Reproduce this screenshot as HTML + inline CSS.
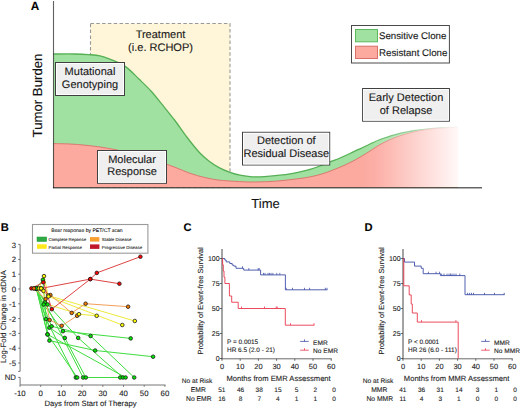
<!DOCTYPE html>
<html><head><meta charset="utf-8"><style>
html,body{margin:0;padding:0;background:#fff;width:520px;height:408px;overflow:hidden}
svg{display:block}
text{font-family:"Liberation Sans", sans-serif;text-rendering:geometricPrecision}
.h{stroke:#1a1a1a;stroke-width:0.12px}
text{stroke:#222;stroke-width:0.1px}
</style></head><body>
<svg width="520" height="408" viewBox="0 0 520 408">
<rect width="520" height="408" fill="#fff"/>
<defs>
<linearGradient id="fade" x1="0" x2="1" y1="0" y2="0"><stop offset="0" stop-color="#fff" stop-opacity="0"/><stop offset="0.15" stop-color="#fff" stop-opacity="0.08"/><stop offset="1" stop-color="#fff" stop-opacity="0.93"/></linearGradient>
</defs>
<rect x="90.5" y="23.5" width="139.5" height="164" fill="#FFF5D8" stroke="#999" stroke-width="1.1" stroke-dasharray="3.5,2.3"/>
<path d="M53.50,54.00 C57.08,54.00 69.17,53.90 75.00,54.00 C80.83,54.10 84.33,54.30 88.50,54.60 C92.67,54.90 96.45,55.05 100.00,55.80 C103.55,56.55 105.55,57.30 109.80,59.10 C114.05,60.90 120.60,63.23 125.50,66.60 C130.40,69.97 134.92,75.20 139.20,79.30 C143.48,83.40 147.35,86.97 151.20,91.20 C155.05,95.43 158.42,99.90 162.30,104.70 C166.18,109.50 170.42,114.62 174.50,120.00 C178.58,125.38 182.65,131.58 186.80,137.00 C190.95,142.42 195.67,148.47 199.40,152.50 C203.13,156.53 205.93,158.68 209.20,161.20 C212.47,163.72 215.53,165.75 219.00,167.60 C222.47,169.45 226.50,171.03 230.00,172.30 C233.50,173.57 236.67,174.48 240.00,175.20 C243.33,175.92 246.67,176.33 250.00,176.60 C253.33,176.87 256.67,176.87 260.00,176.80 C263.33,176.73 266.67,176.47 270.00,176.20 C273.33,175.93 276.67,175.60 280.00,175.20 C283.33,174.80 286.67,174.37 290.00,173.80 C293.33,173.23 296.67,172.53 300.00,171.80 C303.33,171.07 306.67,170.37 310.00,169.40 C313.33,168.43 316.67,167.23 320.00,166.00 C323.33,164.77 326.67,163.33 330.00,162.00 C333.33,160.67 336.67,159.42 340.00,158.00 C343.33,156.58 346.67,155.03 350.00,153.50 C353.33,151.97 356.67,150.38 360.00,148.80 C363.33,147.22 366.67,145.55 370.00,144.00 C373.33,142.45 376.67,140.80 380.00,139.50 C383.33,138.20 386.67,137.22 390.00,136.20 C393.33,135.18 396.67,134.20 400.00,133.40 C403.33,132.60 406.67,131.98 410.00,131.40 C413.33,130.82 415.00,130.50 420.00,129.90 C425.00,129.30 433.67,128.25 440.00,127.80 C446.33,127.35 455.00,127.30 458.00,127.20 L458,187.5 L53.5,187.5 Z" fill="#A0E0A0"/>
<path d="M53.50,54.00 C57.08,54.00 69.17,53.90 75.00,54.00 C80.83,54.10 84.33,54.30 88.50,54.60 C92.67,54.90 96.45,55.05 100.00,55.80 C103.55,56.55 105.55,57.30 109.80,59.10 C114.05,60.90 120.60,63.23 125.50,66.60 C130.40,69.97 134.92,75.20 139.20,79.30 C143.48,83.40 147.35,86.97 151.20,91.20 C155.05,95.43 158.42,99.90 162.30,104.70 C166.18,109.50 170.42,114.62 174.50,120.00 C178.58,125.38 182.65,131.58 186.80,137.00 C190.95,142.42 195.67,148.47 199.40,152.50 C203.13,156.53 205.93,158.68 209.20,161.20 C212.47,163.72 215.53,165.75 219.00,167.60 C222.47,169.45 226.50,171.03 230.00,172.30 C233.50,173.57 236.67,174.48 240.00,175.20 C243.33,175.92 246.67,176.33 250.00,176.60 C253.33,176.87 256.67,176.87 260.00,176.80 C263.33,176.73 266.67,176.47 270.00,176.20 C273.33,175.93 276.67,175.60 280.00,175.20 C283.33,174.80 286.67,174.37 290.00,173.80 C293.33,173.23 296.67,172.53 300.00,171.80 C303.33,171.07 306.67,170.37 310.00,169.40 C313.33,168.43 316.67,167.23 320.00,166.00 C323.33,164.77 326.67,163.33 330.00,162.00 C333.33,160.67 336.67,159.42 340.00,158.00 C343.33,156.58 346.67,155.03 350.00,153.50 C353.33,151.97 356.67,150.38 360.00,148.80 C363.33,147.22 366.67,145.55 370.00,144.00 C373.33,142.45 376.67,140.80 380.00,139.50 C383.33,138.20 386.67,137.22 390.00,136.20 C393.33,135.18 396.67,134.20 400.00,133.40 C403.33,132.60 406.67,131.98 410.00,131.40 C413.33,130.82 415.00,130.50 420.00,129.90 C425.00,129.30 433.67,128.25 440.00,127.80 C446.33,127.35 455.00,127.30 458.00,127.20" fill="none" stroke="#55B055" stroke-width="1.3"/>
<path d="M53.50,143.60 C56.25,143.67 64.75,143.73 70.00,144.00 C75.25,144.27 80.00,144.70 85.00,145.20 C90.00,145.70 95.00,146.27 100.00,147.00 C105.00,147.73 110.00,148.60 115.00,149.60 C120.00,150.60 125.00,151.77 130.00,153.00 C135.00,154.23 140.00,155.53 145.00,157.00 C150.00,158.47 155.00,160.08 160.00,161.80 C165.00,163.52 170.00,165.38 175.00,167.30 C180.00,169.22 185.00,171.58 190.00,173.30 C195.00,175.02 200.33,176.48 205.00,177.60 C209.67,178.72 213.83,179.43 218.00,180.00 C222.17,180.57 224.67,180.67 230.00,181.00 C235.33,181.33 243.33,181.92 250.00,182.00 C256.67,182.08 265.00,181.70 270.00,181.50 C275.00,181.30 276.67,181.10 280.00,180.80 C283.33,180.50 286.67,180.08 290.00,179.70 C293.33,179.32 296.67,178.97 300.00,178.50 C303.33,178.03 306.67,177.57 310.00,176.90 C313.33,176.23 316.67,175.45 320.00,174.50 C323.33,173.55 326.67,172.42 330.00,171.20 C333.33,169.98 336.67,168.63 340.00,167.20 C343.33,165.77 346.67,164.27 350.00,162.60 C353.33,160.93 356.67,159.13 360.00,157.20 C363.33,155.27 366.67,153.10 370.00,151.00 C373.33,148.90 376.67,146.48 380.00,144.60 C383.33,142.72 386.67,141.17 390.00,139.70 C393.33,138.23 396.67,136.93 400.00,135.80 C403.33,134.67 406.67,133.75 410.00,132.90 C413.33,132.05 415.83,131.42 420.00,130.70 C424.17,129.98 428.67,129.17 435.00,128.60 C441.33,128.03 454.17,127.52 458.00,127.30 L458,187.5 L53.5,187.5 Z" fill="#FCA9A0"/>
<path d="M53.50,143.60 C56.25,143.67 64.75,143.73 70.00,144.00 C75.25,144.27 80.00,144.70 85.00,145.20 C90.00,145.70 95.00,146.27 100.00,147.00 C105.00,147.73 110.00,148.60 115.00,149.60 C120.00,150.60 125.00,151.77 130.00,153.00 C135.00,154.23 140.00,155.53 145.00,157.00 C150.00,158.47 155.00,160.08 160.00,161.80 C165.00,163.52 170.00,165.38 175.00,167.30 C180.00,169.22 185.00,171.58 190.00,173.30 C195.00,175.02 200.33,176.48 205.00,177.60 C209.67,178.72 213.83,179.43 218.00,180.00 C222.17,180.57 224.67,180.67 230.00,181.00 C235.33,181.33 243.33,181.92 250.00,182.00 C256.67,182.08 265.00,181.70 270.00,181.50 C275.00,181.30 276.67,181.10 280.00,180.80 C283.33,180.50 286.67,180.08 290.00,179.70 C293.33,179.32 296.67,178.97 300.00,178.50 C303.33,178.03 306.67,177.57 310.00,176.90 C313.33,176.23 316.67,175.45 320.00,174.50 C323.33,173.55 326.67,172.42 330.00,171.20 C333.33,169.98 336.67,168.63 340.00,167.20 C343.33,165.77 346.67,164.27 350.00,162.60 C353.33,160.93 356.67,159.13 360.00,157.20 C363.33,155.27 366.67,153.10 370.00,151.00 C373.33,148.90 376.67,146.48 380.00,144.60 C383.33,142.72 386.67,141.17 390.00,139.70 C393.33,138.23 396.67,136.93 400.00,135.80 C403.33,134.67 406.67,133.75 410.00,132.90 C413.33,132.05 415.83,131.42 420.00,130.70 C424.17,129.98 428.67,129.17 435.00,128.60 C441.33,128.03 454.17,127.52 458.00,127.30" fill="none" stroke="#D9706A" stroke-width="0.9"/>
<rect x="362" y="120" width="96.5" height="67" fill="url(#fade)"/>
<rect x="458.5" y="120" width="30" height="67" fill="#fff"/>
<line x1="53.5" y1="1" x2="53.5" y2="188.1" stroke="#000" stroke-opacity="0.62" stroke-width="1.1"/>
<line x1="53" y1="187.7" x2="482" y2="187.7" stroke="#000" stroke-opacity="0.6" stroke-width="1.4"/>
<rect x="55.5" y="62.5" width="69.0" height="33.0" fill="#EFEFEF" stroke="#404040" stroke-width="1"/>
<rect x="56.5" y="63.5" width="67.0" height="31.0" fill="none" stroke="#fff" stroke-width="0.9"/>
<text x="90.0" y="75.2" font-size="11" text-anchor="middle" fill="#1a1a1a" class="h">Mutational</text>
<text x="90.0" y="87.8" font-size="11" text-anchor="middle" fill="#1a1a1a" class="h">Genotyping</text>
<rect x="97.5" y="150.5" width="69.0" height="32.8" fill="#EFEFEF" stroke="#404040" stroke-width="1"/>
<rect x="98.5" y="151.5" width="67.0" height="30.8" fill="none" stroke="#fff" stroke-width="0.9"/>
<text x="132.0" y="162.6" font-size="11" text-anchor="middle" fill="#1a1a1a" class="h">Molecular</text>
<text x="132.0" y="175.3" font-size="11" text-anchor="middle" fill="#1a1a1a" class="h">Response</text>
<rect x="242.5" y="132.3" width="87.2" height="32.7" fill="#EFEFEF" stroke="#404040" stroke-width="1"/>
<rect x="243.5" y="133.3" width="85.2" height="30.7" fill="none" stroke="#fff" stroke-width="0.9"/>
<text x="286.3" y="144.3" font-size="11" text-anchor="middle" fill="#1a1a1a" class="h">Detection of</text>
<text x="286.3" y="157.4" font-size="11" text-anchor="middle" fill="#1a1a1a" class="h">Residual Disease</text>
<rect x="362.6" y="88.5" width="86.8" height="32.7" fill="#EFEFEF" stroke="#404040" stroke-width="1"/>
<rect x="363.6" y="89.5" width="84.8" height="30.7" fill="none" stroke="#fff" stroke-width="0.9"/>
<text x="406.0" y="100.8" font-size="11" text-anchor="middle" fill="#1a1a1a" class="h">Early Detection</text>
<text x="406.0" y="113.5" font-size="11" text-anchor="middle" fill="#1a1a1a" class="h">of Relapse</text>
<text x="160.5" y="37.6" font-size="11" text-anchor="middle" fill="#1a1a1a" class="h">Treatment</text>
<text x="160.5" y="50.6" font-size="11" text-anchor="middle" fill="#1a1a1a" class="h">(i.e. RCHOP)</text>
<rect x="351.5" y="25.5" width="97.9" height="37.5" fill="#fff" stroke="#4A4A4A" stroke-width="1"/>
<rect x="355.5" y="29.5" width="22" height="12.3" fill="#A0E0A0" stroke="#5DB85D" stroke-width="1"/>
<rect x="355.5" y="46.2" width="22" height="12.3" fill="#FCA9A0" stroke="#D9706A" stroke-width="1"/>
<text x="379" y="39.4" font-size="9.7" fill="#1a1a1a" class="h">Sensitive Clone</text>
<text x="379" y="56" font-size="9.7" fill="#1a1a1a" class="h">Resistant Clone</text>
<text x="265.5" y="207.6" font-size="13" text-anchor="middle" fill="#111" class="h">Time</text>
<text transform="translate(42.3,95.5) rotate(-90)" font-size="13.2" text-anchor="middle" fill="#111" class="h">Tumor Burden</text>
<text x="30.8" y="10.3" font-size="11.8" font-weight="bold" fill="#000">A</text>
<text x="0.7" y="231.0" font-size="11.2" font-weight="bold" fill="#000">B</text>
<path d="M18.2,244.4 H20.1 V371.4 H18.2" fill="none" stroke="#666" stroke-width="0.9"/>
<line x1="18.2" y1="259.4" x2="20.1" y2="259.4" stroke="#666" stroke-width="0.9"/>
<line x1="18.2" y1="274.2" x2="20.1" y2="274.2" stroke="#666" stroke-width="0.9"/>
<line x1="18.2" y1="289.0" x2="20.1" y2="289.0" stroke="#666" stroke-width="0.9"/>
<line x1="18.2" y1="303.8" x2="20.1" y2="303.8" stroke="#666" stroke-width="0.9"/>
<line x1="18.2" y1="318.6" x2="20.1" y2="318.6" stroke="#666" stroke-width="0.9"/>
<line x1="18.2" y1="333.4" x2="20.1" y2="333.4" stroke="#666" stroke-width="0.9"/>
<line x1="18.2" y1="348.2" x2="20.1" y2="348.2" stroke="#666" stroke-width="0.9"/>
<line x1="18.2" y1="363.0" x2="20.1" y2="363.0" stroke="#666" stroke-width="0.9"/>
<path d="M18.2,377.4 H20.1 V385 H165.5" fill="none" stroke="#666" stroke-width="0.9"/>
<line x1="20.0" y1="385" x2="20.0" y2="386.8" stroke="#666" stroke-width="0.9"/>
<line x1="40.7" y1="385" x2="40.7" y2="386.8" stroke="#666" stroke-width="0.9"/>
<line x1="61.4" y1="385" x2="61.4" y2="386.8" stroke="#666" stroke-width="0.9"/>
<line x1="82.1" y1="385" x2="82.1" y2="386.8" stroke="#666" stroke-width="0.9"/>
<line x1="102.8" y1="385" x2="102.8" y2="386.8" stroke="#666" stroke-width="0.9"/>
<line x1="123.5" y1="385" x2="123.5" y2="386.8" stroke="#666" stroke-width="0.9"/>
<line x1="144.2" y1="385" x2="144.2" y2="386.8" stroke="#666" stroke-width="0.9"/>
<line x1="164.9" y1="385" x2="164.9" y2="386.8" stroke="#666" stroke-width="0.9"/>
<text x="16" y="247.5" font-size="7.8" text-anchor="end" fill="#222">3</text>
<text x="16" y="262.3" font-size="7.8" text-anchor="end" fill="#222">2</text>
<text x="16" y="277.1" font-size="7.8" text-anchor="end" fill="#222">1</text>
<text x="16" y="291.9" font-size="7.8" text-anchor="end" fill="#222">0</text>
<text x="16" y="306.7" font-size="7.8" text-anchor="end" fill="#222">-1</text>
<text x="16" y="321.5" font-size="7.8" text-anchor="end" fill="#222">-2</text>
<text x="16" y="336.3" font-size="7.8" text-anchor="end" fill="#222">-3</text>
<text x="16" y="351.1" font-size="7.8" text-anchor="end" fill="#222">-4</text>
<text x="16" y="365.9" font-size="7.8" text-anchor="end" fill="#222">-5</text>
<text x="16" y="380.2" font-size="7.8" text-anchor="end" fill="#222">ND</text>
<text x="20.0" y="395.7" font-size="7.8" text-anchor="middle" fill="#222">-10</text>
<text x="40.7" y="395.7" font-size="7.8" text-anchor="middle" fill="#222">0</text>
<text x="61.4" y="395.7" font-size="7.8" text-anchor="middle" fill="#222">10</text>
<text x="82.1" y="395.7" font-size="7.8" text-anchor="middle" fill="#222">20</text>
<text x="102.8" y="395.7" font-size="7.8" text-anchor="middle" fill="#222">30</text>
<text x="123.5" y="395.7" font-size="7.8" text-anchor="middle" fill="#222">40</text>
<text x="144.2" y="395.7" font-size="7.8" text-anchor="middle" fill="#222">50</text>
<text x="164.9" y="395.7" font-size="7.8" text-anchor="middle" fill="#222">60</text>
<text x="90.5" y="406" font-size="7.7" text-anchor="middle" fill="#222">Days from Start of Therapy</text>
<text transform="translate(6.1,316.7) rotate(-90)" font-size="7.75" text-anchor="middle" fill="#222">Log-Fold Change in ctDNA</text>
<rect x="32.5" y="224.5" width="115.4" height="28.7" fill="#fff" stroke="#9a9a9a" stroke-width="1.1"/>
<text transform="translate(87,232.4) scale(0.25)" font-size="20.4" text-anchor="middle" fill="#000" style="stroke:#000;stroke-width:0.25px">Besr response by PET/CT scan</text>
<rect x="37" y="237" width="9.7" height="4.5" fill="#2EAA44" stroke="#1E9A34" stroke-width="0.5"/>
<rect x="37" y="244.3" width="9.7" height="4.5" fill="#FFE81C"/>
<rect x="90" y="237.1" width="9.4" height="4.5" fill="#F7A030"/>
<rect x="90" y="244.4" width="9.4" height="4.5" fill="#C0182A"/>
<text transform="translate(48.5,241.4) scale(0.25)" font-size="17.6" text-anchor="start" fill="#000" style="stroke:#000;stroke-width:0.25px">Complete Reponse</text>
<text transform="translate(48.5,248.6) scale(0.25)" font-size="17.6" text-anchor="start" fill="#000" style="stroke:#000;stroke-width:0.25px">Partial Response</text>
<text transform="translate(101.8,241.4) scale(0.25)" font-size="17.6" text-anchor="start" fill="#000" style="stroke:#000;stroke-width:0.25px">Stable Disease</text>
<text transform="translate(101.8,248.6) scale(0.25)" font-size="17.6" text-anchor="start" fill="#000" style="stroke:#000;stroke-width:0.25px">Progressive Disease</text>
<polyline points="36.3,288.4 45.9,319.0 75.8,377.5" fill="none" stroke="#40DD40" stroke-width="1"/>
<polyline points="36.3,288.4 47.5,334.4 77.2,377.5" fill="none" stroke="#40DD40" stroke-width="1"/>
<polyline points="36.3,288.4 44.9,302.4 83.1,377.5" fill="none" stroke="#40DD40" stroke-width="1"/>
<polyline points="36.3,288.4 49.4,327.7 64.8,337.9 85.8,377.5 120.2,377.5" fill="none" stroke="#40DD40" stroke-width="1"/>
<polyline points="36.3,288.4 47.6,304.5 78.2,337.9 122.9,377.5" fill="none" stroke="#40DD40" stroke-width="1"/>
<polyline points="36.3,288.4 51.6,326.3 90.6,336.0 134.2,377.5" fill="none" stroke="#40DD40" stroke-width="1"/>
<polyline points="36.3,288.4 43.7,304.5 62.9,331.2 130.7,338.4" fill="none" stroke="#40DD40" stroke-width="1"/>
<polyline points="36.3,288.4 49.4,340.6 95.2,350.5 153.1,356.7" fill="none" stroke="#40DD40" stroke-width="1"/>
<polyline points="36.3,288.4 42.9,279.8 47.5,334.4 125.6,377.5" fill="none" stroke="#40DD40" stroke-width="1"/>
<polyline points="39.0,288.4 44.0,276.1 48.1,295.5 134.8,321.0" fill="none" stroke="#EEEA3A" stroke-width="1"/>
<polyline points="41.2,288.4 43.5,290.9 48.5,296.5 122.3,325.0" fill="none" stroke="#EEEA3A" stroke-width="1"/>
<polyline points="41.2,288.4 47.9,304.4 79.0,314.2 96.7,315.8" fill="none" stroke="#EEEA3A" stroke-width="1"/>
<polyline points="33.9,288.4 50.4,295.0 71.7,312.9 85.6,303.7 128.1,306.7" fill="none" stroke="#F2A05A" stroke-width="1"/>
<polyline points="33.9,288.4 45.6,299.1 49.6,320.0 61.7,325.8 77.1,315.8" fill="none" stroke="#F2A05A" stroke-width="1"/>
<polyline points="31.4,288.4 43.4,282.3 51.8,309.2 90.3,279.1 96.8,272.9 140.4,256.7" fill="none" stroke="#E04444" stroke-width="1"/>
<polyline points="41.2,288.4 90.3,279.1 119.4,283.7" fill="none" stroke="#E04444" stroke-width="1"/>
<circle cx="36.3" cy="288.4" r="1.8" fill="#00E600" stroke="#1a1a1a" stroke-width="0.8"/>
<circle cx="45.9" cy="319.0" r="1.8" fill="#00E600" stroke="#1a1a1a" stroke-width="0.8"/>
<circle cx="75.8" cy="377.5" r="1.8" fill="#00E600" stroke="#1a1a1a" stroke-width="0.8"/>
<circle cx="36.3" cy="288.4" r="1.8" fill="#00E600" stroke="#1a1a1a" stroke-width="0.8"/>
<circle cx="47.5" cy="334.4" r="1.8" fill="#00E600" stroke="#1a1a1a" stroke-width="0.8"/>
<circle cx="77.2" cy="377.5" r="1.8" fill="#00E600" stroke="#1a1a1a" stroke-width="0.8"/>
<circle cx="36.3" cy="288.4" r="1.8" fill="#00E600" stroke="#1a1a1a" stroke-width="0.8"/>
<circle cx="44.9" cy="302.4" r="1.8" fill="#00E600" stroke="#1a1a1a" stroke-width="0.8"/>
<circle cx="83.1" cy="377.5" r="1.8" fill="#00E600" stroke="#1a1a1a" stroke-width="0.8"/>
<circle cx="36.3" cy="288.4" r="1.8" fill="#00E600" stroke="#1a1a1a" stroke-width="0.8"/>
<circle cx="49.4" cy="327.7" r="1.8" fill="#00E600" stroke="#1a1a1a" stroke-width="0.8"/>
<circle cx="64.8" cy="337.9" r="1.8" fill="#00E600" stroke="#1a1a1a" stroke-width="0.8"/>
<circle cx="85.8" cy="377.5" r="1.8" fill="#00E600" stroke="#1a1a1a" stroke-width="0.8"/>
<circle cx="120.2" cy="377.5" r="1.8" fill="#00E600" stroke="#1a1a1a" stroke-width="0.8"/>
<circle cx="36.3" cy="288.4" r="1.8" fill="#00E600" stroke="#1a1a1a" stroke-width="0.8"/>
<circle cx="47.6" cy="304.5" r="1.8" fill="#00E600" stroke="#1a1a1a" stroke-width="0.8"/>
<circle cx="78.2" cy="337.9" r="1.8" fill="#00E600" stroke="#1a1a1a" stroke-width="0.8"/>
<circle cx="122.9" cy="377.5" r="1.8" fill="#00E600" stroke="#1a1a1a" stroke-width="0.8"/>
<circle cx="36.3" cy="288.4" r="1.8" fill="#00E600" stroke="#1a1a1a" stroke-width="0.8"/>
<circle cx="51.6" cy="326.3" r="1.8" fill="#00E600" stroke="#1a1a1a" stroke-width="0.8"/>
<circle cx="90.6" cy="336.0" r="1.8" fill="#00E600" stroke="#1a1a1a" stroke-width="0.8"/>
<circle cx="134.2" cy="377.5" r="1.8" fill="#00E600" stroke="#1a1a1a" stroke-width="0.8"/>
<circle cx="36.3" cy="288.4" r="1.8" fill="#00E600" stroke="#1a1a1a" stroke-width="0.8"/>
<circle cx="43.7" cy="304.5" r="1.8" fill="#00E600" stroke="#1a1a1a" stroke-width="0.8"/>
<circle cx="62.9" cy="331.2" r="1.8" fill="#00E600" stroke="#1a1a1a" stroke-width="0.8"/>
<circle cx="130.7" cy="338.4" r="1.8" fill="#00E600" stroke="#1a1a1a" stroke-width="0.8"/>
<circle cx="36.3" cy="288.4" r="1.8" fill="#00E600" stroke="#1a1a1a" stroke-width="0.8"/>
<circle cx="49.4" cy="340.6" r="1.8" fill="#00E600" stroke="#1a1a1a" stroke-width="0.8"/>
<circle cx="95.2" cy="350.5" r="1.8" fill="#00E600" stroke="#1a1a1a" stroke-width="0.8"/>
<circle cx="153.1" cy="356.7" r="1.8" fill="#00E600" stroke="#1a1a1a" stroke-width="0.8"/>
<circle cx="36.3" cy="288.4" r="1.8" fill="#00E600" stroke="#1a1a1a" stroke-width="0.8"/>
<circle cx="42.9" cy="279.8" r="1.8" fill="#00E600" stroke="#1a1a1a" stroke-width="0.8"/>
<circle cx="47.5" cy="334.4" r="1.8" fill="#00E600" stroke="#1a1a1a" stroke-width="0.8"/>
<circle cx="125.6" cy="377.5" r="1.8" fill="#00E600" stroke="#1a1a1a" stroke-width="0.8"/>
<circle cx="31.4" cy="288.4" r="1.8" fill="#FF0000" stroke="#1a1a1a" stroke-width="0.8"/>
<circle cx="43.4" cy="282.3" r="1.8" fill="#FF0000" stroke="#1a1a1a" stroke-width="0.8"/>
<circle cx="51.8" cy="309.2" r="1.8" fill="#FF0000" stroke="#1a1a1a" stroke-width="0.8"/>
<circle cx="90.3" cy="279.1" r="1.8" fill="#FF0000" stroke="#1a1a1a" stroke-width="0.8"/>
<circle cx="96.8" cy="272.9" r="1.8" fill="#FF0000" stroke="#1a1a1a" stroke-width="0.8"/>
<circle cx="140.4" cy="256.7" r="1.8" fill="#FF0000" stroke="#1a1a1a" stroke-width="0.8"/>
<circle cx="41.2" cy="288.4" r="1.8" fill="#FF0000" stroke="#1a1a1a" stroke-width="0.8"/>
<circle cx="90.3" cy="279.1" r="1.8" fill="#FF0000" stroke="#1a1a1a" stroke-width="0.8"/>
<circle cx="119.4" cy="283.7" r="1.8" fill="#FF0000" stroke="#1a1a1a" stroke-width="0.8"/>
<circle cx="33.9" cy="288.4" r="1.8" fill="#F27800" stroke="#1a1a1a" stroke-width="0.8"/>
<circle cx="50.4" cy="295.0" r="1.8" fill="#F27800" stroke="#1a1a1a" stroke-width="0.8"/>
<circle cx="71.7" cy="312.9" r="1.8" fill="#F27800" stroke="#1a1a1a" stroke-width="0.8"/>
<circle cx="85.6" cy="303.7" r="1.8" fill="#F27800" stroke="#1a1a1a" stroke-width="0.8"/>
<circle cx="128.1" cy="306.7" r="1.8" fill="#F27800" stroke="#1a1a1a" stroke-width="0.8"/>
<circle cx="33.9" cy="288.4" r="1.8" fill="#F27800" stroke="#1a1a1a" stroke-width="0.8"/>
<circle cx="45.6" cy="299.1" r="1.8" fill="#F27800" stroke="#1a1a1a" stroke-width="0.8"/>
<circle cx="49.6" cy="320.0" r="1.8" fill="#F27800" stroke="#1a1a1a" stroke-width="0.8"/>
<circle cx="61.7" cy="325.8" r="1.8" fill="#F27800" stroke="#1a1a1a" stroke-width="0.8"/>
<circle cx="77.1" cy="315.8" r="1.8" fill="#F27800" stroke="#1a1a1a" stroke-width="0.8"/>
<circle cx="39.0" cy="288.4" r="1.8" fill="#FFFF00" stroke="#1a1a1a" stroke-width="0.8"/>
<circle cx="44.0" cy="276.1" r="1.8" fill="#FFFF00" stroke="#1a1a1a" stroke-width="0.8"/>
<circle cx="48.1" cy="295.5" r="1.8" fill="#FFFF00" stroke="#1a1a1a" stroke-width="0.8"/>
<circle cx="134.8" cy="321.0" r="1.8" fill="#FFFF00" stroke="#1a1a1a" stroke-width="0.8"/>
<circle cx="41.2" cy="288.4" r="1.8" fill="#FFFF00" stroke="#1a1a1a" stroke-width="0.8"/>
<circle cx="43.5" cy="290.9" r="1.8" fill="#FFFF00" stroke="#1a1a1a" stroke-width="0.8"/>
<circle cx="48.5" cy="296.5" r="1.8" fill="#FFFF00" stroke="#1a1a1a" stroke-width="0.8"/>
<circle cx="122.3" cy="325.0" r="1.8" fill="#FFFF00" stroke="#1a1a1a" stroke-width="0.8"/>
<circle cx="41.2" cy="288.4" r="1.8" fill="#FFFF00" stroke="#1a1a1a" stroke-width="0.8"/>
<circle cx="79.0" cy="314.2" r="1.8" fill="#FFFF00" stroke="#1a1a1a" stroke-width="0.8"/>
<circle cx="96.7" cy="315.8" r="1.8" fill="#FFFF00" stroke="#1a1a1a" stroke-width="0.8"/>
<text x="183.4" y="231.0" font-size="11.2" font-weight="bold" fill="#000">C</text>
<line x1="222.0" y1="249" x2="222.0" y2="358.8" stroke="#999" stroke-width="1.8"/>
<line x1="219.8" y1="258.5" x2="222.0" y2="258.5" stroke="#444" stroke-width="0.8"/>
<text x="219.6" y="261.0" font-size="7.0" text-anchor="end" fill="#222">100</text>
<line x1="219.8" y1="283.5" x2="222.0" y2="283.5" stroke="#444" stroke-width="0.8"/>
<text x="219.6" y="286.0" font-size="7.0" text-anchor="end" fill="#222">75</text>
<line x1="219.8" y1="308.5" x2="222.0" y2="308.5" stroke="#444" stroke-width="0.8"/>
<text x="219.6" y="311.0" font-size="7.0" text-anchor="end" fill="#222">50</text>
<line x1="219.8" y1="333.5" x2="222.0" y2="333.5" stroke="#444" stroke-width="0.8"/>
<text x="219.6" y="336.0" font-size="7.0" text-anchor="end" fill="#222">25</text>
<line x1="219.8" y1="358.5" x2="222.0" y2="358.5" stroke="#444" stroke-width="0.8"/>
<text x="219.6" y="361.0" font-size="7.0" text-anchor="end" fill="#222">0</text>
<line x1="221.0" y1="358.8" x2="331.7" y2="358.8" stroke="#444" stroke-width="0.8"/>
<line x1="222.0" y1="358.8" x2="222.0" y2="360.8" stroke="#444" stroke-width="0.8"/>
<text x="222.0" y="368.5" font-size="7.45" text-anchor="middle" fill="#222">0</text>
<line x1="240.2" y1="358.8" x2="240.2" y2="360.8" stroke="#444" stroke-width="0.8"/>
<text x="240.2" y="368.5" font-size="7.45" text-anchor="middle" fill="#222">10</text>
<line x1="258.4" y1="358.8" x2="258.4" y2="360.8" stroke="#444" stroke-width="0.8"/>
<text x="258.4" y="368.5" font-size="7.45" text-anchor="middle" fill="#222">20</text>
<line x1="276.6" y1="358.8" x2="276.6" y2="360.8" stroke="#444" stroke-width="0.8"/>
<text x="276.6" y="368.5" font-size="7.45" text-anchor="middle" fill="#222">30</text>
<line x1="294.8" y1="358.8" x2="294.8" y2="360.8" stroke="#444" stroke-width="0.8"/>
<text x="294.8" y="368.5" font-size="7.45" text-anchor="middle" fill="#222">40</text>
<line x1="313.0" y1="358.8" x2="313.0" y2="360.8" stroke="#444" stroke-width="0.8"/>
<text x="313.0" y="368.5" font-size="7.45" text-anchor="middle" fill="#222">50</text>
<line x1="331.2" y1="358.8" x2="331.2" y2="360.8" stroke="#444" stroke-width="0.8"/>
<text x="331.2" y="368.5" font-size="7.45" text-anchor="middle" fill="#222">60</text>
<path d="M222.00,258.50 H224.80 V260.00 H226.20 V261.90 H229.80 V263.50 H232.20 V265.10 H233.80 V266.10 H236.00 V268.30 H243.70 V270.10 H260.60 V274.90 H285.40 V289.80 H327.40 V289.80" fill="none" stroke="#3E4EA6" stroke-width="0.9"/>
<path d="M222.00,258.50 H222.60 V264.75 H223.30 V271.00 H224.00 V277.25 H224.90 V283.50 H229.40 V296.00 H231.70 V302.25 H238.20 V308.50 H285.30 V325.20 H314.40 V325.20" fill="none" stroke="#E8384C" stroke-width="0.9"/>
<line x1="242.5" y1="268.3" x2="242.5" y2="266.3" stroke="#3E4EA6" stroke-width="0.8"/>
<line x1="248.8" y1="270.1" x2="248.8" y2="268.1" stroke="#3E4EA6" stroke-width="0.8"/>
<line x1="258.2" y1="270.1" x2="258.2" y2="268.1" stroke="#3E4EA6" stroke-width="0.8"/>
<line x1="259.2" y1="270.1" x2="259.2" y2="268.1" stroke="#3E4EA6" stroke-width="0.8"/>
<line x1="263.5" y1="274.9" x2="263.5" y2="272.9" stroke="#3E4EA6" stroke-width="0.8"/>
<line x1="265.0" y1="274.9" x2="265.0" y2="272.9" stroke="#3E4EA6" stroke-width="0.8"/>
<line x1="268.0" y1="274.9" x2="268.0" y2="272.9" stroke="#3E4EA6" stroke-width="0.8"/>
<line x1="269.4" y1="274.9" x2="269.4" y2="272.9" stroke="#3E4EA6" stroke-width="0.8"/>
<line x1="271.0" y1="274.9" x2="271.0" y2="272.9" stroke="#3E4EA6" stroke-width="0.8"/>
<line x1="272.9" y1="274.9" x2="272.9" y2="272.9" stroke="#3E4EA6" stroke-width="0.8"/>
<line x1="276.8" y1="274.9" x2="276.8" y2="272.9" stroke="#3E4EA6" stroke-width="0.8"/>
<line x1="279.8" y1="274.9" x2="279.8" y2="272.9" stroke="#3E4EA6" stroke-width="0.8"/>
<line x1="286.2" y1="289.8" x2="286.2" y2="287.8" stroke="#3E4EA6" stroke-width="0.8"/>
<line x1="292.5" y1="289.8" x2="292.5" y2="287.8" stroke="#3E4EA6" stroke-width="0.8"/>
<line x1="304.5" y1="289.8" x2="304.5" y2="287.8" stroke="#3E4EA6" stroke-width="0.8"/>
<line x1="309.6" y1="289.8" x2="309.6" y2="287.8" stroke="#3E4EA6" stroke-width="0.8"/>
<line x1="325.3" y1="289.8" x2="325.3" y2="287.8" stroke="#3E4EA6" stroke-width="0.8"/>
<line x1="327.0" y1="289.8" x2="327.0" y2="287.8" stroke="#3E4EA6" stroke-width="0.8"/>
<line x1="241.5" y1="308.5" x2="241.5" y2="306.5" stroke="#E8384C" stroke-width="0.8"/>
<line x1="264.5" y1="308.5" x2="264.5" y2="306.5" stroke="#E8384C" stroke-width="0.8"/>
<line x1="276.2" y1="308.5" x2="276.2" y2="306.5" stroke="#E8384C" stroke-width="0.8"/>
<line x1="277.2" y1="308.5" x2="277.2" y2="306.5" stroke="#E8384C" stroke-width="0.8"/>
<line x1="290.5" y1="325.2" x2="290.5" y2="323.2" stroke="#E8384C" stroke-width="0.8"/>
<line x1="314.0" y1="325.2" x2="314.0" y2="323.2" stroke="#E8384C" stroke-width="0.8"/>
<text x="227.0" y="343.7" font-size="6.45" fill="#222">P = 0.0015</text>
<text x="227.0" y="351.8" font-size="6.45" fill="#222">HR 6.5 (2.0 - 21)</text>
<line x1="300.2" y1="341.4" x2="308.7" y2="341.4" stroke="#3E4EA6" stroke-width="0.8"/>
<line x1="304.5" y1="341.4" x2="304.5" y2="339.4" stroke="#3E4EA6" stroke-width="0.8"/>
<line x1="300.2" y1="350.2" x2="308.7" y2="350.2" stroke="#E8384C" stroke-width="0.8"/>
<line x1="304.5" y1="350.2" x2="304.5" y2="348.2" stroke="#E8384C" stroke-width="0.8"/>
<text x="313.0" y="344.6" font-size="6.6" fill="#222">EMR</text>
<text x="313.0" y="353.1" font-size="6.6" fill="#222">No EMR</text>
<text transform="translate(203.4,300.9) rotate(-90)" font-size="7.4" text-anchor="middle" fill="#222">Probability of Event-free Survival</text>
<text x="278.6" y="381.2" font-size="7.6" text-anchor="middle" fill="#222">Months from EMR Assessment</text>
<text x="197.0" y="383" font-size="6.65" text-anchor="middle" fill="#222">No at Risk</text>
<text x="198.3" y="392" font-size="6.75" text-anchor="middle" fill="#222">EMR</text>
<text x="198.8" y="401.2" font-size="6.75" text-anchor="middle" fill="#222">No EMR</text>
<text x="221.8" y="391.9" font-size="6.5" text-anchor="middle" fill="#222">51</text>
<text x="221.8" y="401.2" font-size="6.5" text-anchor="middle" fill="#222">16</text>
<text x="240.5" y="391.9" font-size="6.5" text-anchor="middle" fill="#222">46</text>
<text x="240.5" y="401.2" font-size="6.5" text-anchor="middle" fill="#222">8</text>
<text x="259.2" y="391.9" font-size="6.5" text-anchor="middle" fill="#222">38</text>
<text x="259.2" y="401.2" font-size="6.5" text-anchor="middle" fill="#222">7</text>
<text x="277.9" y="391.9" font-size="6.5" text-anchor="middle" fill="#222">15</text>
<text x="277.9" y="401.2" font-size="6.5" text-anchor="middle" fill="#222">4</text>
<text x="296.6" y="391.9" font-size="6.5" text-anchor="middle" fill="#222">5</text>
<text x="296.6" y="401.2" font-size="6.5" text-anchor="middle" fill="#222">1</text>
<text x="315.3" y="391.9" font-size="6.5" text-anchor="middle" fill="#222">2</text>
<text x="315.3" y="401.2" font-size="6.5" text-anchor="middle" fill="#222">1</text>
<text x="334.0" y="391.9" font-size="6.5" text-anchor="middle" fill="#222">0</text>
<text x="334.0" y="401.2" font-size="6.5" text-anchor="middle" fill="#222">0</text>
<text x="364.4" y="231.0" font-size="11.2" font-weight="bold" fill="#000">D</text>
<line x1="403.0" y1="249" x2="403.0" y2="358.8" stroke="#999" stroke-width="1.8"/>
<line x1="400.8" y1="258.5" x2="403.0" y2="258.5" stroke="#444" stroke-width="0.8"/>
<text x="400.6" y="261.0" font-size="7.0" text-anchor="end" fill="#222">100</text>
<line x1="400.8" y1="283.5" x2="403.0" y2="283.5" stroke="#444" stroke-width="0.8"/>
<text x="400.6" y="286.0" font-size="7.0" text-anchor="end" fill="#222">75</text>
<line x1="400.8" y1="308.5" x2="403.0" y2="308.5" stroke="#444" stroke-width="0.8"/>
<text x="400.6" y="311.0" font-size="7.0" text-anchor="end" fill="#222">50</text>
<line x1="400.8" y1="333.5" x2="403.0" y2="333.5" stroke="#444" stroke-width="0.8"/>
<text x="400.6" y="336.0" font-size="7.0" text-anchor="end" fill="#222">25</text>
<line x1="400.8" y1="358.5" x2="403.0" y2="358.5" stroke="#444" stroke-width="0.8"/>
<text x="400.6" y="361.0" font-size="7.0" text-anchor="end" fill="#222">0</text>
<line x1="402.0" y1="358.8" x2="512.7" y2="358.8" stroke="#444" stroke-width="0.8"/>
<line x1="403.0" y1="358.8" x2="403.0" y2="360.8" stroke="#444" stroke-width="0.8"/>
<text x="403.0" y="368.5" font-size="7.45" text-anchor="middle" fill="#222">0</text>
<line x1="421.2" y1="358.8" x2="421.2" y2="360.8" stroke="#444" stroke-width="0.8"/>
<text x="421.2" y="368.5" font-size="7.45" text-anchor="middle" fill="#222">10</text>
<line x1="439.4" y1="358.8" x2="439.4" y2="360.8" stroke="#444" stroke-width="0.8"/>
<text x="439.4" y="368.5" font-size="7.45" text-anchor="middle" fill="#222">20</text>
<line x1="457.6" y1="358.8" x2="457.6" y2="360.8" stroke="#444" stroke-width="0.8"/>
<text x="457.6" y="368.5" font-size="7.45" text-anchor="middle" fill="#222">30</text>
<line x1="475.8" y1="358.8" x2="475.8" y2="360.8" stroke="#444" stroke-width="0.8"/>
<text x="475.8" y="368.5" font-size="7.45" text-anchor="middle" fill="#222">40</text>
<line x1="494.0" y1="358.8" x2="494.0" y2="360.8" stroke="#444" stroke-width="0.8"/>
<text x="494.0" y="368.5" font-size="7.45" text-anchor="middle" fill="#222">50</text>
<line x1="512.2" y1="358.8" x2="512.2" y2="360.8" stroke="#444" stroke-width="0.8"/>
<text x="512.2" y="368.5" font-size="7.45" text-anchor="middle" fill="#222">60</text>
<path d="M403.00,258.50 H404.50 V262.10 H414.50 V266.10 H421.20 V268.30 H423.20 V273.70 H440.40 V275.60 H465.00 V294.70 H504.60 V294.70" fill="none" stroke="#3E4EA6" stroke-width="0.9"/>
<path d="M403.00,258.50 H403.80 V285.80 H409.20 V294.90 H411.20 V304.00 H412.30 V313.00 H417.30 V322.10 H458.20 V358.50" fill="none" stroke="#E8384C" stroke-width="0.9"/>
<line x1="428.4" y1="273.7" x2="428.4" y2="271.7" stroke="#3E4EA6" stroke-width="0.8"/>
<line x1="436.0" y1="273.7" x2="436.0" y2="271.7" stroke="#3E4EA6" stroke-width="0.8"/>
<line x1="439.6" y1="273.7" x2="439.6" y2="271.7" stroke="#3E4EA6" stroke-width="0.8"/>
<line x1="441.7" y1="275.6" x2="441.7" y2="273.6" stroke="#3E4EA6" stroke-width="0.8"/>
<line x1="444.0" y1="275.6" x2="444.0" y2="273.6" stroke="#3E4EA6" stroke-width="0.8"/>
<line x1="447.0" y1="275.6" x2="447.0" y2="273.6" stroke="#3E4EA6" stroke-width="0.8"/>
<line x1="449.0" y1="275.6" x2="449.0" y2="273.6" stroke="#3E4EA6" stroke-width="0.8"/>
<line x1="450.5" y1="275.6" x2="450.5" y2="273.6" stroke="#3E4EA6" stroke-width="0.8"/>
<line x1="452.0" y1="275.6" x2="452.0" y2="273.6" stroke="#3E4EA6" stroke-width="0.8"/>
<line x1="454.0" y1="275.6" x2="454.0" y2="273.6" stroke="#3E4EA6" stroke-width="0.8"/>
<line x1="456.0" y1="275.6" x2="456.0" y2="273.6" stroke="#3E4EA6" stroke-width="0.8"/>
<line x1="459.8" y1="275.6" x2="459.8" y2="273.6" stroke="#3E4EA6" stroke-width="0.8"/>
<line x1="467.6" y1="294.8" x2="467.6" y2="292.8" stroke="#3E4EA6" stroke-width="0.8"/>
<line x1="469.6" y1="294.8" x2="469.6" y2="292.8" stroke="#3E4EA6" stroke-width="0.8"/>
<line x1="471.5" y1="294.8" x2="471.5" y2="292.8" stroke="#3E4EA6" stroke-width="0.8"/>
<line x1="473.5" y1="294.8" x2="473.5" y2="292.8" stroke="#3E4EA6" stroke-width="0.8"/>
<line x1="484.5" y1="294.8" x2="484.5" y2="292.8" stroke="#3E4EA6" stroke-width="0.8"/>
<line x1="494.5" y1="294.8" x2="494.5" y2="292.8" stroke="#3E4EA6" stroke-width="0.8"/>
<line x1="504.2" y1="294.8" x2="504.2" y2="292.8" stroke="#3E4EA6" stroke-width="0.8"/>
<line x1="421.5" y1="322.1" x2="421.5" y2="320.1" stroke="#E8384C" stroke-width="0.8"/>
<line x1="455.9" y1="322.1" x2="455.9" y2="320.1" stroke="#E8384C" stroke-width="0.8"/>
<text x="408.0" y="343.7" font-size="6.45" fill="#222">P &lt; 0.0001</text>
<text x="408.0" y="351.8" font-size="6.45" fill="#222">HR 26 (6.0 - 111)</text>
<line x1="481.2" y1="341.4" x2="489.7" y2="341.4" stroke="#3E4EA6" stroke-width="0.8"/>
<line x1="485.5" y1="341.4" x2="485.5" y2="339.4" stroke="#3E4EA6" stroke-width="0.8"/>
<line x1="481.2" y1="350.2" x2="489.7" y2="350.2" stroke="#E8384C" stroke-width="0.8"/>
<line x1="485.5" y1="350.2" x2="485.5" y2="348.2" stroke="#E8384C" stroke-width="0.8"/>
<text x="494.0" y="344.6" font-size="6.6" fill="#222">MMR</text>
<text x="494.0" y="353.1" font-size="6.6" fill="#222">No MMR</text>
<text transform="translate(384.4,300.9) rotate(-90)" font-size="7.4" text-anchor="middle" fill="#222">Probability of Event-free Survival</text>
<text x="456.6" y="381.2" font-size="7.6" text-anchor="middle" fill="#222">Months from MMR Assessment</text>
<text x="378.0" y="383" font-size="6.65" text-anchor="middle" fill="#222">No at Risk</text>
<text x="379.3" y="392" font-size="6.75" text-anchor="middle" fill="#222">MMR</text>
<text x="379.8" y="401.2" font-size="6.75" text-anchor="middle" fill="#222">No MMR</text>
<text x="402.8" y="391.9" font-size="6.5" text-anchor="middle" fill="#222">41</text>
<text x="402.8" y="401.2" font-size="6.5" text-anchor="middle" fill="#222">11</text>
<text x="421.5" y="391.9" font-size="6.5" text-anchor="middle" fill="#222">36</text>
<text x="421.5" y="401.2" font-size="6.5" text-anchor="middle" fill="#222">4</text>
<text x="440.2" y="391.9" font-size="6.5" text-anchor="middle" fill="#222">31</text>
<text x="440.2" y="401.2" font-size="6.5" text-anchor="middle" fill="#222">3</text>
<text x="458.9" y="391.9" font-size="6.5" text-anchor="middle" fill="#222">14</text>
<text x="458.9" y="401.2" font-size="6.5" text-anchor="middle" fill="#222">1</text>
<text x="477.6" y="391.9" font-size="6.5" text-anchor="middle" fill="#222">3</text>
<text x="477.6" y="401.2" font-size="6.5" text-anchor="middle" fill="#222">0</text>
<text x="496.3" y="391.9" font-size="6.5" text-anchor="middle" fill="#222">1</text>
<text x="496.3" y="401.2" font-size="6.5" text-anchor="middle" fill="#222">0</text>
<text x="515.0" y="391.9" font-size="6.5" text-anchor="middle" fill="#222">0</text>
<text x="515.0" y="401.2" font-size="6.5" text-anchor="middle" fill="#222">0</text>
</svg>
</body></html>
